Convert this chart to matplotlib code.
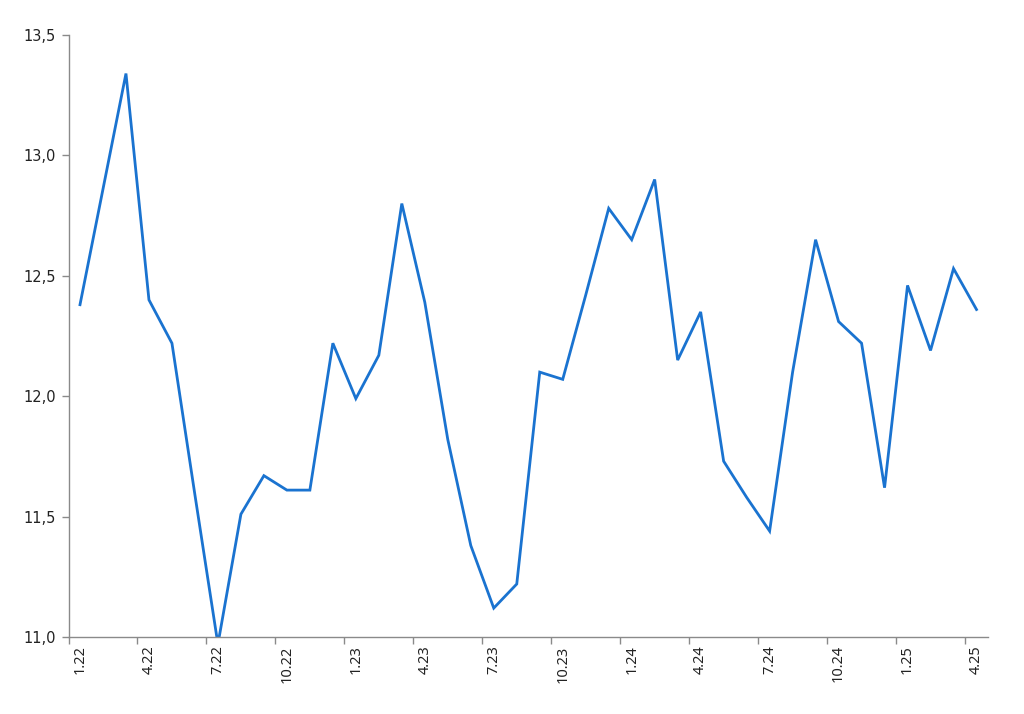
import matplotlib
matplotlib.use("Agg")
import matplotlib.pyplot as plt
from matplotlib.ticker import FuncFormatter, FixedLocator

months = [
    "1.22", "2.22", "3.22", "4.22", "5.22", "6.22", "7.22", "8.22", "9.22", "10.22", "11.22", "12.22",
    "1.23", "2.23", "3.23", "4.23", "5.23", "6.23", "7.23", "8.23", "9.23", "10.23", "11.23", "12.23",
    "1.24", "2.24", "3.24", "4.24", "5.24", "6.24", "7.24", "8.24", "9.24", "10.24", "11.24", "12.24",
    "1.25", "2.25", "3.25", "4.25",
]
values = [
    12.38, 12.86, 13.34, 12.40, 12.22, 11.59, 10.97, 11.51, 11.67, 11.61, 11.61, 12.22,
    11.99, 12.17, 12.80, 12.39, 11.82, 11.38, 11.12, 11.22, 12.10, 12.07, 12.42, 12.78,
    12.65, 12.90, 12.15, 12.35, 11.73, 11.58, 11.44, 12.10, 12.65, 12.31, 12.22, 11.62,
    12.46, 12.19, 12.53, 12.36,
]
y_ticks = [11.0, 11.5, 12.0, 12.5, 13.0, 13.5]

plt.rcParams["font.family"] = ["DejaVu Sans"]

fig = plt.figure(figsize=(10.24, 7.14), dpi=100)
ax = fig.add_axes([68.5 / 1024, 77 / 714, (988 - 68.5) / 1024, (637 - 35) / 714])

x = list(range(len(values)))
ax.plot(x, values, color="#1a73d0", linewidth=2.0, solid_joinstyle="miter")

ax.set_xlim(-0.5, len(values) - 0.5)
ax.set_ylim(11.0, 13.5)

for s in ["top", "right"]:
    ax.spines[s].set_visible(False)
for s in ["left", "bottom"]:
    ax.spines[s].set_color("#8a8a8a")
    ax.spines[s].set_linewidth(1.0)

ax.set_yticks(y_ticks)
ax.yaxis.set_major_formatter(FuncFormatter(lambda v, p: f"{v:.1f}".replace(".", ",")))
ax.tick_params(axis="y", direction="out", length=5, width=1, color="#8a8a8a",
               labelsize=10.5, labelcolor="#222222", pad=4)
for lbl in ax.get_yticklabels():
    lbl.set_family("DejaVu Sans")

# tick marks at category boundaries, labels at category centres
boundaries = [i - 0.5 for i in range(0, len(values), 3)]
ax.xaxis.set_major_locator(FixedLocator(boundaries))
ax.tick_params(axis="x", which="major", direction="out", length=5, width=1,
               color="#8a8a8a", labelbottom=False)
label_pos = list(range(0, len(values), 3))
ax.xaxis.set_minor_locator(FixedLocator(label_pos))
ax.set_xticklabels([months[i] for i in label_pos], minor=True, rotation=90,
                   fontsize=10.5, color="#222222", family=["Noto Sans", "DejaVu Sans"])
ax.tick_params(axis="x", which="minor", length=0, pad=6)

fig.savefig("out.png", dpi=100, facecolor="white")
